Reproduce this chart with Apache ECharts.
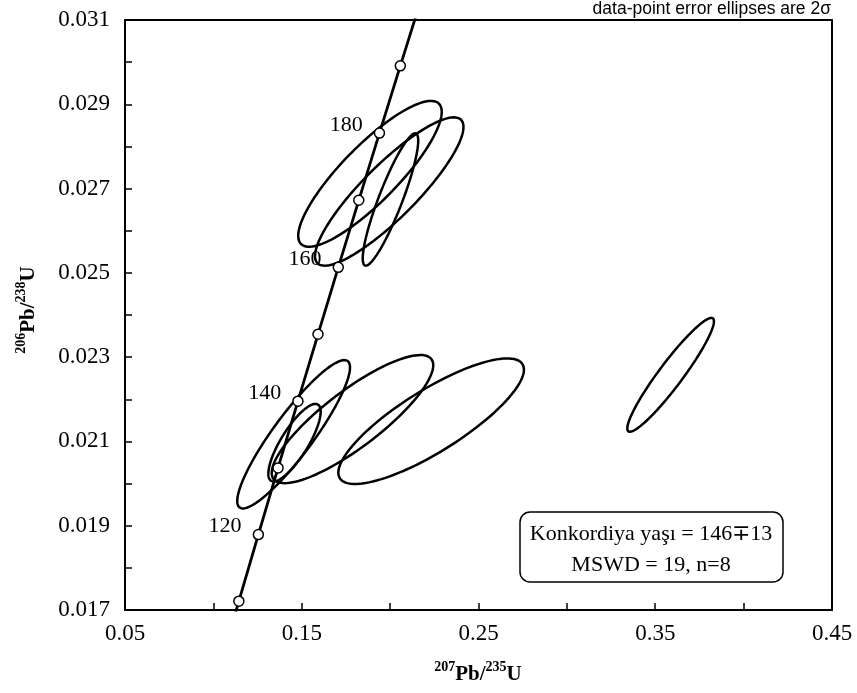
<!DOCTYPE html>
<html>
<head>
<meta charset="utf-8">
<script src="https://cdn.jsdelivr.net/npm/echarts@6/dist/echarts.min.js"></script>
<style>html,body{margin:0;padding:0;background:#fff}#c{width:857px;height:693px}</style>
</head>
<body>
<div id="c"></div>
<script>
// Concordia curve points (age in Ma, 207Pb/235U, 206Pb/238U)
const concAges = [100, 110, 120, 130, 140, 150, 160, 170, 180, 190, 200];
const concX = [0.10350, 0.11442, 0.12545, 0.13659, 0.14784, 0.15920, 0.17067, 0.18226, 0.19396, 0.20577, 0.21771];
const concY = [0.015633, 0.017210, 0.018789, 0.020371, 0.021955, 0.023542, 0.025131, 0.026722, 0.028316, 0.029912, 0.031511];
const markedAges = [110, 120, 130, 140, 150, 160, 170, 180, 190];
const labeledAges = [120, 140, 160, 180];

// Error ellipses (2 sigma): centre, half-extent in x, half-extent in y, correlation
const ellCX  = [0.1886, 0.1995, 0.2002, 0.1454, 0.1459, 0.1787, 0.2232, 0.3587];
const ellCY  = [0.02735, 0.02693, 0.02674, 0.02117, 0.02097, 0.02153, 0.02148, 0.02258];
const ellSX  = [0.0406, 0.0420, 0.0157, 0.0319, 0.0148, 0.0457, 0.0525, 0.0245];
const ellSY  = [0.00173, 0.00176, 0.00157, 0.00176, 0.00092, 0.00152, 0.00149, 0.00135];
const ellRho = [0.85, 0.87, 0.89, 0.90, 0.80, 0.84, 0.82, 0.94];

const xTitle = ['207', 'Pb/', '235', 'U'];
const yTitle = ['206', 'Pb/', '238', 'U'];
const noteText = 'data-point error ellipses are 2σ';
const boxLines = ['Konkordiya yaşı = 146∓13', 'MSWD = 19, n=8'];

const serif = 'Liberation Serif';
const chart = echarts.init(document.getElementById('c'));

const ellData = ellCX.map((x, i) => [x, ellCY[i], ellSX[i], ellSY[i], ellRho[i]]);
const concData = concX.map((x, i) => {
  const age = concAges[i];
  return {
    value: [x, concY[i]],
    symbol: markedAges.includes(age) ? 'circle' : 'none',
    label: { show: labeledAges.includes(age), formatter: String(age) }
  };
});

const titleRich = {
  sup: { fontFamily: serif, fontWeight: 'bold', fontSize: 14, verticalAlign: 'top', lineHeight: 24, color: '#000' },
  base: { fontFamily: serif, fontWeight: 'bold', fontSize: 21, lineHeight: 24, padding: [6, 0, 0, 0], color: '#000' }
};
function titleStr(p) { return '{sup|' + p[0] + '}{base|' + p[1] + '}{sup|' + p[2] + '}{base|' + p[3] + '}'; }

chart.setOption({
  animation: false,
  grid: { left: 125, right: 25, top: 20, bottom: 83, show: true, borderColor: '#000', borderWidth: 2, backgroundColor: 'transparent' },
  xAxis: {
    type: 'value', min: 0.05, max: 0.45, interval: 0.05,
    axisLine: { show: true, lineStyle: { color: '#000', width: 2 } },
    axisTick: { show: true, inside: true, length: 7, lineStyle: { color: '#000', width: 1.5 } },
    splitLine: { show: false },
    axisLabel: {
      color: '#000', fontFamily: serif, fontSize: 23, margin: 12,
      formatter: v => (Math.round(v * 100) % 10 === 5 ? v.toFixed(2) : '')
    }
  },
  yAxis: {
    type: 'value', min: 0.017, max: 0.031, interval: 0.001,
    axisLine: { show: true, lineStyle: { color: '#000', width: 2 } },
    axisTick: { show: true, inside: true, length: 7, lineStyle: { color: '#000', width: 1.5 } },
    splitLine: { show: false },
    axisLabel: {
      color: '#000', fontFamily: serif, fontSize: 23, margin: 15,
      formatter: v => (Math.round(v * 1000) % 2 === 1 ? v.toFixed(3) : '')
    }
  },
  series: [
    {
      type: 'custom',
      data: ellData,
      encode: { x: 0, y: 1 },
      z: 2,
      renderItem: function (params, api) {
        const cx = api.value(0), cy = api.value(1), sx = api.value(2), sy = api.value(3), r = api.value(4);
        const q = Math.sqrt(1 - r * r);
        const pts = [];
        for (let k = 0; k < 120; k++) {
          const t = 2 * Math.PI * k / 120;
          pts.push(api.coord([cx + sx * Math.cos(t), cy + sy * (r * Math.cos(t) + q * Math.sin(t))]));
        }
        return { type: 'polygon', shape: { points: pts }, style: { fill: 'none', stroke: '#000', lineWidth: 2.5 } };
      }
    },
    {
      type: 'line',
      data: concData,
      z: 3,
      clip: true,
      symbolSize: 10,
      lineStyle: { color: '#000', width: 2.8 },
      itemStyle: { color: '#fff', borderColor: '#000', borderWidth: 1.5 },
      label: { position: 'left', distance: 11, offset: [0, -8], color: '#000', fontFamily: serif, fontSize: 22 },
      emphasis: { disabled: true }
    }
  ],
  graphic: [
    { type: 'text', x: 478, y: 672, style: { text: titleStr(xTitle), rich: titleRich, align: 'center', verticalAlign: 'middle' } },
    { type: 'text', x: 26, y: 310, rotation: Math.PI / 2, style: { text: titleStr(yTitle), rich: titleRich, align: 'center', verticalAlign: 'middle' } },
    { type: 'text', x: 831, y: 9, style: { text: noteText, fontFamily: 'Liberation Sans', fontSize: 17.5, fill: '#000', align: 'right', verticalAlign: 'middle' } },
    { type: 'rect', shape: { x: 520, y: 512, width: 263, height: 70, r: 10 }, style: { fill: '#fff', stroke: '#000', lineWidth: 1.5 }, z: 10 },
    { type: 'text', x: 651, y: 534, z: 11, style: { text: boxLines[0], fontFamily: serif, fontSize: 22, fill: '#000', align: 'center', verticalAlign: 'middle' } },
    { type: 'text', x: 651, y: 565, z: 11, style: { text: boxLines[1], fontFamily: serif, fontSize: 22, fill: '#000', align: 'center', verticalAlign: 'middle' } }
  ]
});
</script>
</body>
</html>
